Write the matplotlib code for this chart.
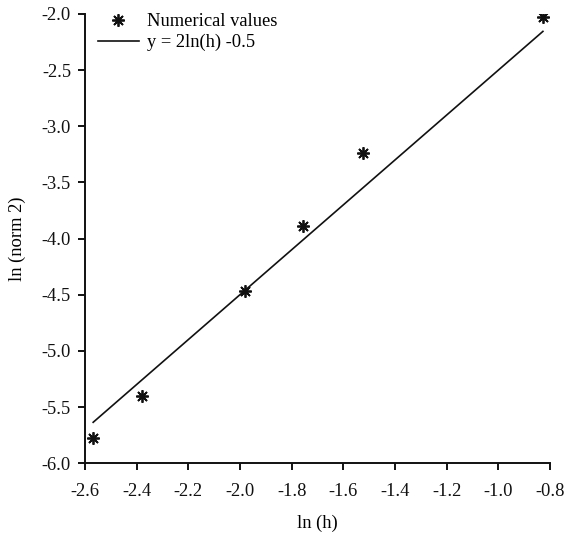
import numpy as np
import matplotlib
matplotlib.use('Agg')
import matplotlib.pyplot as plt

plt.rcParams['font.family'] = ['Liberation Serif', 'DejaVu Serif']

# numerical values
ln_h = [-2.568, -2.38, -1.982, -1.756, -1.525, -0.828]
ln_norm2 = [-5.775, -5.40, -4.47, -3.89, -3.24, -2.03]

# fitted line y = 2 ln(h) - 0.5
fit_x = np.array([-2.568, -0.828])
fit_y = 2 * fit_x - 0.5

fig = plt.figure(figsize=(5.66, 5.33), dpi=100)
ax = fig.add_axes([0.150, 0.131, 0.822, 0.843])

ax.plot(ln_h, ln_norm2, linestyle='none', marker=(8, 2, 0), markersize=9,
        markeredgewidth=1.3, color='#111111', label='Numerical values')
ax.plot(fit_x, fit_y, color='#111111', linewidth=1.2, label='y = 2ln(h) -0.5')

ax.set_xlim(-2.6, -0.8)
ax.set_ylim(-6.0, -2.0)
ax.set_xticks(np.arange(-2.6, -0.79, 0.2))
ax.set_yticks(np.arange(-6.0, -1.99, 0.5))
ax.xaxis.set_major_formatter(matplotlib.ticker.FormatStrFormatter('%.1f'))
ax.yaxis.set_major_formatter(matplotlib.ticker.FormatStrFormatter('%.1f'))

for s in ['top', 'right']:
    ax.spines[s].set_visible(False)
for s in ['left', 'bottom']:
    ax.spines[s].set_linewidth(1.4)
    ax.spines[s].set_color('#111111')
ax.tick_params(direction='out', length=5, width=1.4, labelsize=13.3, colors='#111111')
ax.tick_params(axis='x', pad=9)
ax.tick_params(axis='y', pad=5)

ax.set_xlabel('ln (h)', fontsize=13.3, labelpad=11)
ax.set_ylabel('ln (norm 2)', fontsize=13.3, labelpad=11)

ax.legend(loc='upper left', frameon=False, fontsize=13.3, handlelength=2.2,
          handletextpad=0.45, borderaxespad=0.0, labelspacing=0.2,
          bbox_to_anchor=(0.012, 1.018))

fig.savefig('out.png', dpi=100)
